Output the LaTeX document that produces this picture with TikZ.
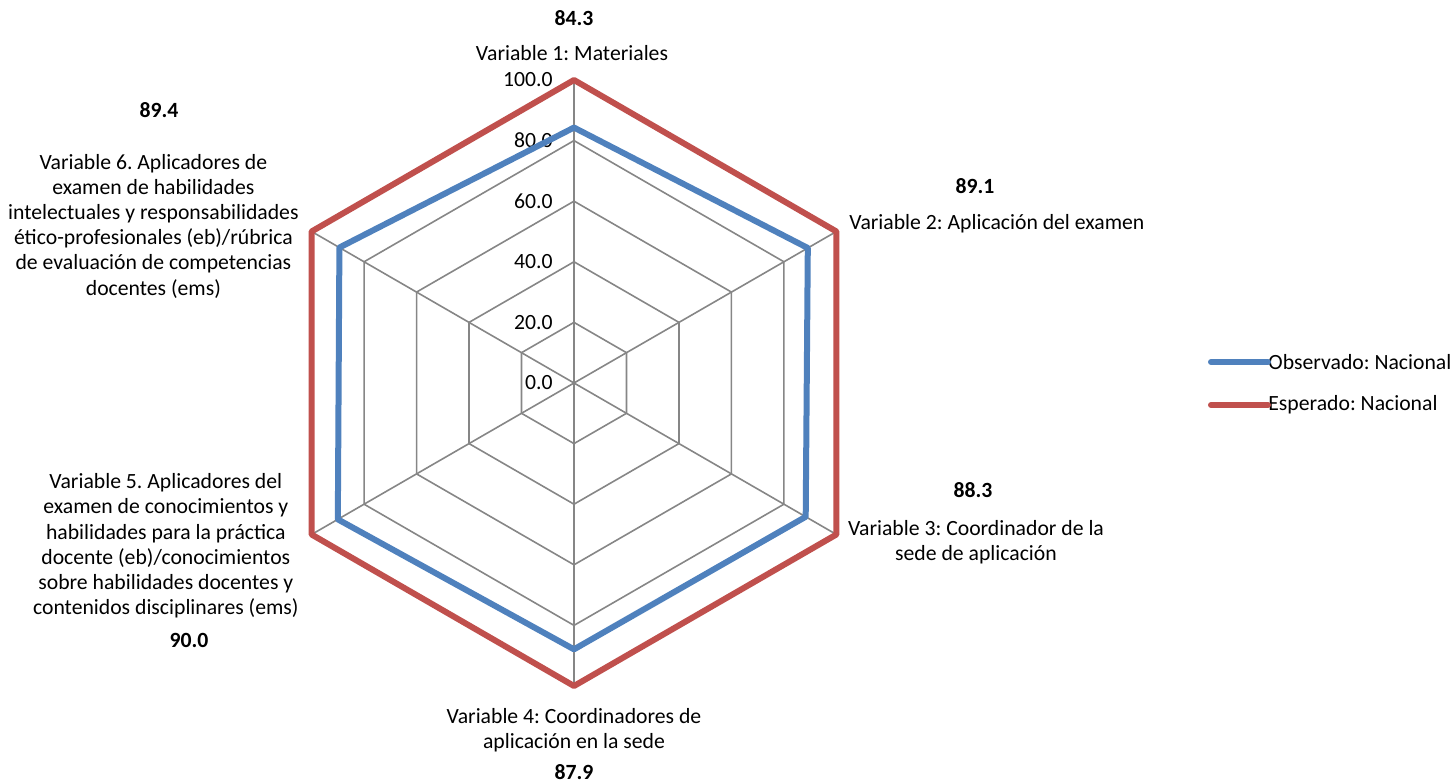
\documentclass[tikz,border=0pt]{standalone}
\usepackage{fontspec}
\setmainfont{Carlito}
\frenchspacing
\definecolor{serieblue}{HTML}{4F81BD}
\definecolor{seriered}{HTML}{C0504D}
\definecolor{gridgray}{HTML}{868686}

\begin{document}
\begin{tikzpicture}[x=0.5pt, y=0.5pt,
		font=\fontsize{10.85}{12.6}\selectfont,
		gridline/.style={draw=gridgray, line width=0.8pt},
		serie/.style={line width=3pt, line join=round},
		varlabel/.style={inner sep=0pt, align=center},
		vallabel/.style={inner sep=0pt, font=\fontsize{10.85}{12.6}\selectfont\bfseries}]
		
		\useasboundingbox (0,0) rectangle (1453,782);
		
		\begin{scope}[shift={(574,399)}]
		% grid
		\foreach \r in {20,40,60,80,100}
		\draw[gridline] (90:{3.03*\r}) -- (30:{3.03*\r}) -- (-30:{3.03*\r}) -- (-90:{3.03*\r}) -- (-150:{3.03*\r}) -- (150:{3.03*\r}) -- cycle;
		\foreach \a in {90,30,-30,-90,-150,150}
		\draw[gridline] (0,0) -- (\a:303);
		\foreach \r in {0,20,40,60,80,100}
		\node[anchor=east, inner sep=0pt] (tick\r) at (-21,{3.03*\r}) {\r.0};
		
		% series
		\draw[serie, serieblue] (90:{3.03*84.3}) -- (30:{3.03*89.1}) -- (-30:{3.03*88.3}) -- (-90:{3.03*87.9}) -- (-150:{3.03*90.0}) -- (150:{3.03*89.4}) -- cycle;
		\draw[serie, seriered] (90:303) -- (30:303) -- (-30:303) -- (-90:303) -- (-150:303) -- (150:303) -- cycle;
		\end{scope}
		
		% variable labels
		\node[vallabel] (val1) at (574,764) {84.3};
		\node[varlabel] (var1) at (572,729) {Variable 1: Materiales};
		
		\node[vallabel] (val2) at (975,596) {89.1};
		\node[varlabel, anchor=west] (var2) at (849,558) {Variable 2: Aplicación del examen};
		
		\node[vallabel] (val3) at (973,292) {88.3};
		\node[varlabel] (var3) at (976,240) {Variable 3: Coordinador de la\\sede de aplicación};
		
		\node[varlabel] (var4) at (574,52) {Variable 4: Coordinadores de\\aplicación en la sede};
		\node[vallabel] (val4) at (574,10) {87.9};
		
		\node[varlabel, anchor=east] (var5) at (299,236) {Variable 5. Aplicadores del\\examen de conocimientos y\\habilidades para la práctica\\docente (eb)/conocimientos\\sobre habilidades docentes y\\contenidos disciplinares (ems)};
		\node[vallabel] (val5) at (189,142) {90.0};
		
		\node[vallabel] (val6) at (159,672) {89.4};
		\node[varlabel, anchor=east] (var6) at (299,556) {Variable 6. Aplicadores de\\examen de habilidades\\intelectuales y responsabilidades\\ético-profesionales (eb)/rúbrica\\de evaluación de competencias\\docentes (ems)};
		
		% legend
		\coordinate (obsstart) at (1211,420);
		\node[anchor=west, inner sep=0pt] (obstext) at (1268,420) {Observado: Nacional};
		\draw[serie, serieblue, line cap=round] (obsstart) -- (obstext.west);
		\coordinate (espstart) at (1211,377);
		\node[anchor=west, inner sep=0pt] (esptext) at (1268,377) {Esperado: Nacional};
		\draw[serie, seriered, line cap=round] (espstart) -- (esptext.west);
		
	\end{tikzpicture}
\end{document}
